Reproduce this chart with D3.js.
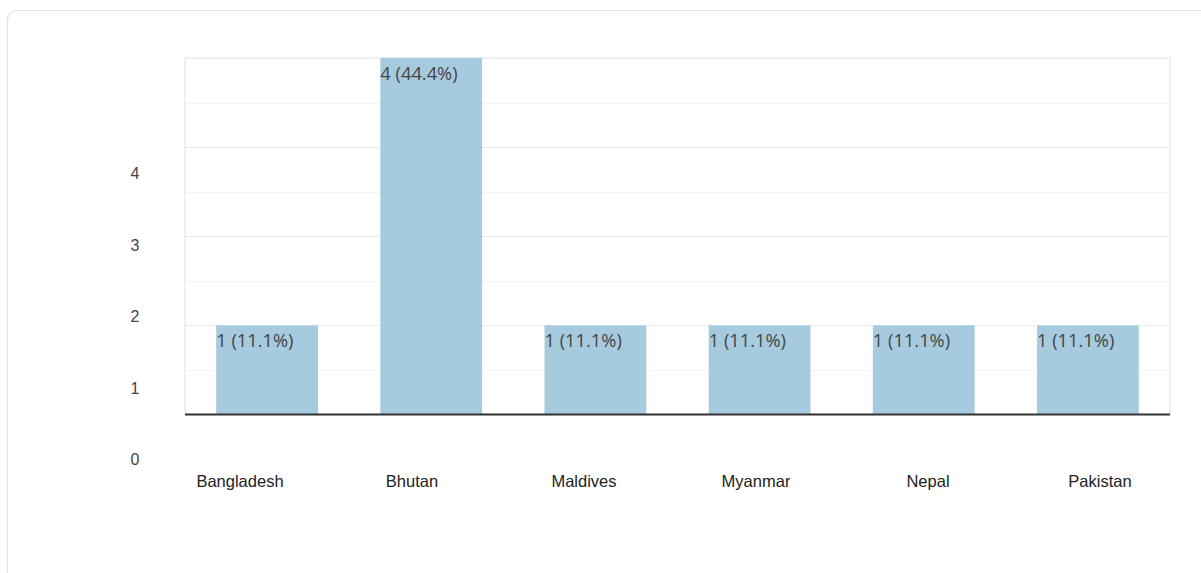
<!DOCTYPE html>
<html>
<head>
<meta charset="utf-8">
<script src="https://cdn.jsdelivr.net/npm/d3@7"></script>
<style>
  html, body { margin: 0; padding: 0; background: #fff; overflow: hidden; }
  svg { display: block; }
</style>
</head>
<body>
<svg id="chart" width="1201" height="573"></svg>
<script>
// Responses per country
const categories = ["Bangladesh", "Bhutan", "Maldives", "Myanmar", "Nepal", "Pakistan"];
const counts = [1, 4, 1, 1, 1, 1];
const valueLabels = ["1 (11.1%)", "4 (44.4%)", "1 (11.1%)", "1 (11.1%)", "1 (11.1%)", "1 (11.1%)"];
const yTickValues = [0, 1, 2, 3, 4];
const gridValues = [0.5, 1, 1.5, 2, 2.5, 3, 3.5];

const svg = d3.select("#chart");

// card outline
svg.append("rect")
  .attr("x", 7.5).attr("y", 10.5)
  .attr("width", 1220).attr("height", 600)
  .attr("rx", 9).attr("ry", 9)
  .attr("fill", "#fff")
  .attr("stroke", "#e3e3e3")
  .attr("stroke-width", 1.2);

const plot = { left: 185, right: 1170, top: 58, bottom: 414.5 };

const x = d3.scaleBand()
  .domain(categories)
  .range([plot.left, plot.right])
  .paddingInner(0.38)
  .paddingOuter(0.19);

const y = d3.scaleLinear()
  .domain([0, 4])
  .range([plot.bottom, plot.top]);

// axis labels laid out on their own scales
const labelX = d3.scalePoint().domain(categories).range([240, 1100]);
const labelY = d3.scaleLinear().domain([0, 4]).range([465, 179]);

// plot frame
svg.append("rect")
  .attr("x", plot.left).attr("y", plot.top)
  .attr("width", plot.right - plot.left).attr("height", plot.bottom - plot.top)
  .attr("fill", "none")
  .attr("stroke", "#ececec")
  .attr("stroke-width", 1.5);

// horizontal gridlines
svg.append("g")
  .selectAll("line")
  .data(gridValues)
  .join("line")
  .attr("x1", plot.left).attr("x2", plot.right)
  .attr("y1", d => Math.round(y(d)) + 0.5)
  .attr("y2", d => Math.round(y(d)) + 0.5)
  .attr("stroke", d => Number.isInteger(d) ? "#ebebeb" : "#f3f3f3")
  .attr("stroke-width", 1.2);

// bars
svg.append("g")
  .selectAll("rect")
  .data(counts)
  .join("rect")
  .attr("x", (d, i) => x(categories[i]))
  .attr("width", x.bandwidth())
  .attr("y", d => y(d))
  .attr("height", d => y(0) - y(d))
  .attr("fill", "#a6cbdf");

// value labels inside bars
svg.append("g")
  .selectAll("text")
  .data(counts)
  .join("text")
  .attr("x", (d, i) => x(categories[i]))
  .attr("y", d => y(d) + 22)
  .attr("font-family", "'Open Sans', sans-serif")
  .attr("font-size", 18.3)
  .attr("fill", "#454545")
  .text((d, i) => valueLabels[i]);

// baseline
svg.append("line")
  .attr("x1", plot.left).attr("x2", plot.right)
  .attr("y1", y(0)).attr("y2", y(0))
  .attr("stroke", "#333")
  .attr("stroke-width", 2);

// y tick labels
svg.append("g")
  .selectAll("text")
  .data(yTickValues)
  .join("text")
  .attr("x", 135)
  .attr("y", d => labelY(d))
  .attr("text-anchor", "middle")
  .attr("font-family", "'Liberation Sans', Arial, sans-serif")
  .attr("font-size", 16)
  .attr("fill", "#444")
  .text(d => d);

// category labels
svg.append("g")
  .selectAll("text")
  .data(categories)
  .join("text")
  .attr("x", d => labelX(d))
  .attr("y", 487)
  .attr("text-anchor", "middle")
  .attr("font-family", "'Liberation Sans', Arial, sans-serif")
  .attr("font-size", 16.5)
  .attr("fill", "#222")
  .text(d => d);
</script>
</body>
</html>
